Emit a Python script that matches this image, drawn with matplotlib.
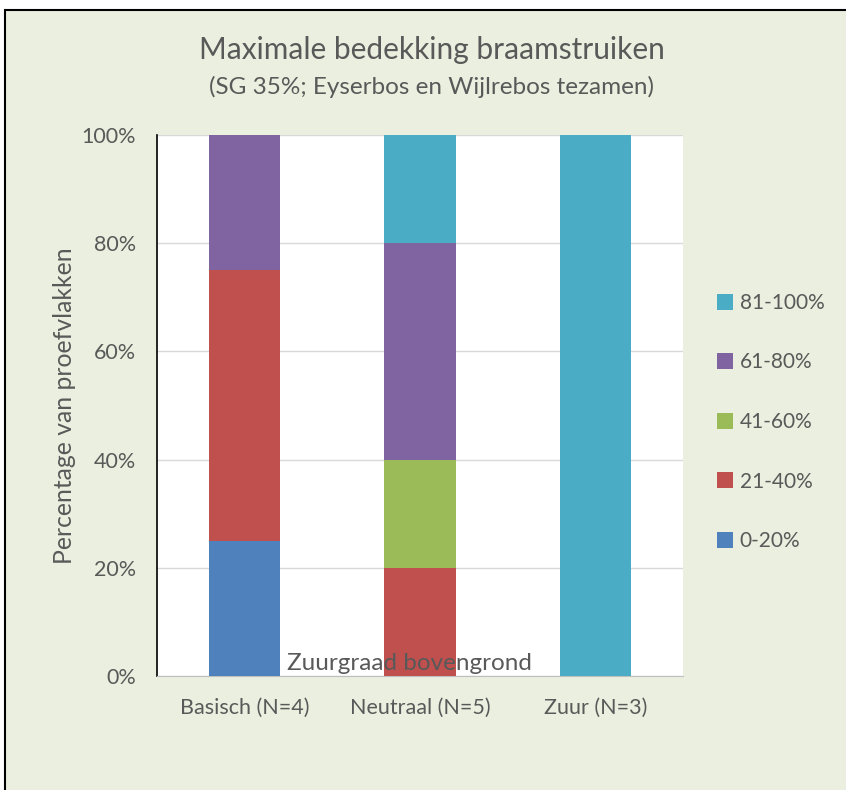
import numpy as np
import matplotlib.pyplot as plt
from matplotlib.patches import Rectangle

plt.rcParams['font.family'] = ['Lato', 'DejaVu Sans']

categories = ['Basisch (N=4)', 'Neutraal (N=5)', 'Zuur (N=3)']
klassen = ['0-20%', '21-40%', '41-60%', '61-80%', '81-100%']
waarden = {
    '0-20%': [25, 0, 0],
    '21-40%': [50, 20, 0],
    '41-60%': [0, 20, 0],
    '61-80%': [25, 40, 0],
    '81-100%': [0, 20, 100],
}
kleuren = ['#4F81BD', '#C0504D', '#9BBB59', '#8064A2', '#4BACC6']

txt = '#595959'
bg = '#EBEFDF'

fig = plt.figure(figsize=(8.46, 7.9), dpi=100)
fig.patch.set_facecolor('white')
# achtergrondvlak, loopt rechts en onder door buiten het beeld
fig.patches.append(Rectangle((5 / 846, -0.05), 1.1, 1.05 - 10 / 790, transform=fig.transFigure,
                             facecolor=bg, edgecolor='black', linewidth=1.5, zorder=-1))

ax = fig.add_axes([157 / 846, 1 - 676 / 790, 526 / 846, 541 / 790])
ax.set_facecolor('white')

x = np.arange(len(categories))
bottom = np.zeros(len(categories))
for k, c in zip(klassen, kleuren):
    v = np.array(waarden[k], dtype=float)
    ax.bar(x, v, bottom=bottom, width=0.405, color=c, label=k, zorder=3)
    bottom += v

ax.set_xlim(-0.5, 2.5)
ax.set_ylim(0, 100)
ax.set_yticks(np.arange(0, 101, 20))
ax.set_yticklabels([f'{t}%' for t in range(0, 101, 20)])
ax.set_xticks(x)
ax.set_xticklabels(categories)
ax.tick_params(length=0, labelsize=15.5, colors=txt)
ax.tick_params(axis='y', pad=15)
ax.tick_params(axis='x', pad=16)
ax.grid(axis='y', color='#D9D9D9', linewidth=1, zorder=0)
for s in ['top', 'right']:
    ax.spines[s].set_visible(False)
ax.spines['left'].set_color('black')
ax.spines['left'].set_linewidth(1.2)
ax.spines['bottom'].set_color('#BFBFBF')

ax.set_ylabel('Percentage van proefvlakken', fontsize=17.8, color=txt, labelpad=4)
ax.text(0.5 - 11 / 526, 0.003, 'Zuurgraad bovengrond', transform=ax.transAxes, ha='center',
        va='bottom', fontsize=17.5, color=txt, zorder=5)

fig.text(432 / 846, 1 - 50 / 790, 'Maximale bedekking braamstruiken', ha='center', va='center',
         fontsize=21.5, color=txt)
fig.text(431 / 846, 1 - 87 / 790, '(SG 35%; Eyserbos en Wijlrebos tezamen)', ha='center', va='center',
         fontsize=17.5, color=txt)

h, l = ax.get_legend_handles_labels()
leg = fig.legend(h[::-1], l[::-1], loc='center left', bbox_to_anchor=(698 / 846, 1 - 422 / 790),
                 frameon=False, fontsize=15, labelcolor=txt, handlelength=0.8, handleheight=0.8,
                 handletextpad=0.3, labelspacing=1.9)

fig.savefig('out.png', dpi=100, facecolor=fig.get_facecolor())
